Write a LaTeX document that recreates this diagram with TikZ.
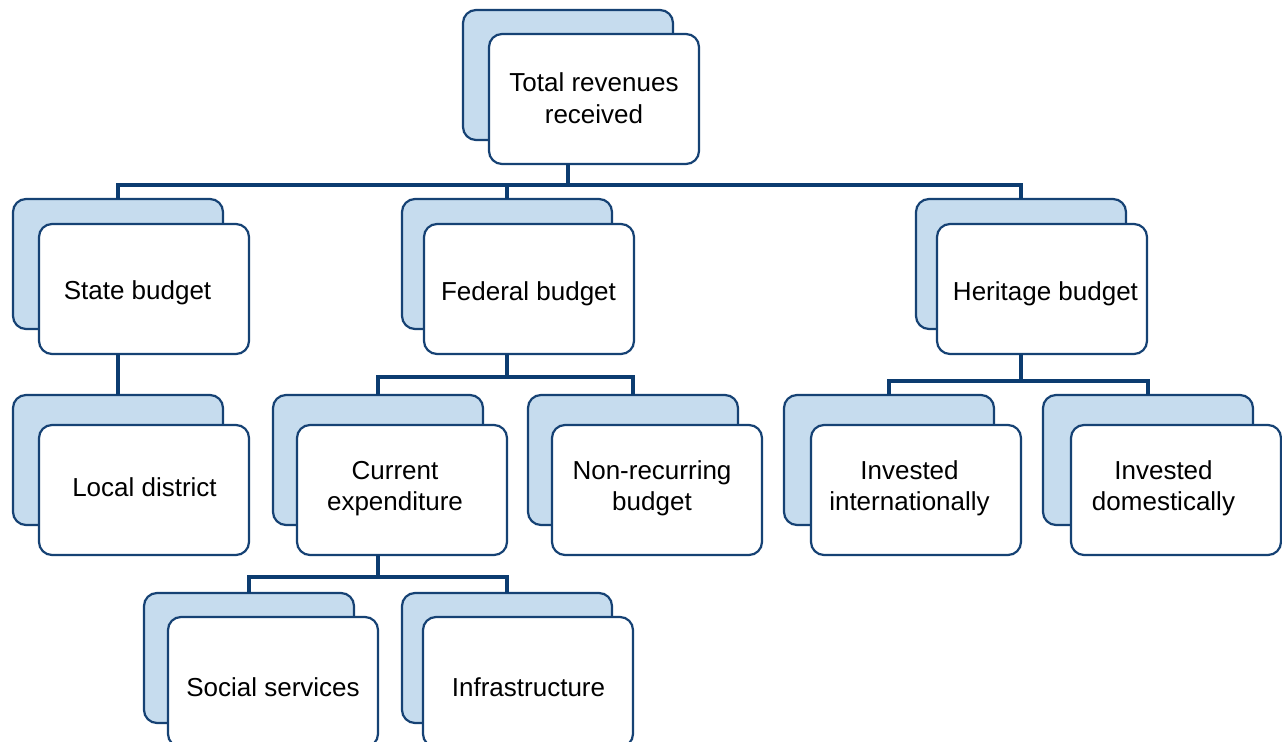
\documentclass[tikz,border=0pt]{standalone}
\usepackage{fontspec}
\setmainfont{Liberation Sans}
\usetikzlibrary{calc}
\definecolor{edgeblue}{RGB}{22,66,116}
\definecolor{linkblue}{RGB}{12,60,112}
\definecolor{backblue}{RGB}{198,220,238}
\tikzset{
  backcard/.style={draw=edgeblue, line width=1.1pt, fill=backblue, rounded corners=6.5pt,
    minimum width=105pt, minimum height=65pt, inner sep=0pt, outer sep=0pt, anchor=north west},
  frontcard/.style={draw=edgeblue, line width=1.1pt, fill=white, rounded corners=6.5pt,
    minimum width=105pt, minimum height=65pt, inner sep=0pt, outer sep=0pt, anchor=north west},
  cardtext/.style={inner sep=0pt, align=center, font=\fontsize{13pt}{15.8pt}\selectfont},
  link/.style={draw=linkblue, line width=2.1pt, line join=miter}
}
% one card: back plate name, back corner, front name, front corner, text centre, label
\newcommand\orgcard[6]{%
  \node[backcard] (#1) at #2 {};
  \node[frontcard] (#3) at #4 {};
  \node[cardtext] (#3-t) at #5 {#6};
}
\begin{document}
\begin{tikzpicture}[x=0.5pt,y=-0.5pt]
\clip (0,0) rectangle (1282,742);
\fill[white] (0,0) rectangle (1282,742);

% horizontal bus levels
\coordinate (busA) at (0,185);
\coordinate (busB) at (0,377);
\coordinate (busC) at (0,381);
\coordinate (busD) at (0,577);

% cards
\orgcard{totalB}{(463,10)}{total}{(489,34)}{(594,101.2)}{\strut Total revenues\\\strut received}
\orgcard{stateB}{(13,199)}{state}{(39,224)}{(137.5,293.2)}{\strut State budget}
\orgcard{fedB}{(402,199)}{fed}{(424,224)}{(528.5,293.7)}{\strut Federal budget}
\orgcard{heritB}{(916,199)}{herit}{(937,224)}{(1045.5,293.7)}{\strut Heritage budget}
\orgcard{localB}{(13,395)}{local}{(39,425)}{(144.5,489.7)}{\strut Local district}
\orgcard{currB}{(273,395)}{curr}{(297,425)}{(395,488.5)}{\strut Current\\\strut expenditure}
\orgcard{nonrecB}{(528,395)}{nonrec}{(552,425)}{(652,488.5)}{\strut Non-recurring\\\strut budget}
\orgcard{intlB}{(784,395)}{intl}{(811,425)}{(909.5,488.5)}{\strut Invested\\\strut internationally}
\orgcard{domB}{(1043,395)}{dom}{(1071,425)}{(1163.5,488.5)}{\strut Invested\\\strut domestically}
\orgcard{socB}{(144,593)}{soc}{(168,617)}{(273,689.7)}{\strut Social services}
\orgcard{infraB}{(402,593)}{infra}{(423,617)}{(528.5,689.7)}{\strut Infrastructure}

% level 1
\draw[link] (total.south -| totalB.center) -- (totalB.center |- busA);
\draw[link] (stateB.north) -- (stateB.north |- busA) -- (heritB.north |- busA) -- (heritB.north);
\draw[link] (fedB.north) -- (fedB.north |- busA);
% state
\draw[link] (state.south -| stateB.center) -- (localB.north);
% federal
\draw[link] (fed.south -| fedB.center) -- (fedB.center |- busB);
\draw[link] (currB.north) -- (currB.north |- busB) -- (nonrecB.north |- busB) -- (nonrecB.north);
% heritage
\draw[link] (herit.south -| heritB.center) -- (heritB.center |- busC);
\draw[link] (intlB.north) -- (intlB.north |- busC) -- (domB.north |- busC) -- (domB.north);
% current expenditure
\draw[link] (curr.south -| currB.center) -- (currB.center |- busD);
\draw[link] (socB.north) -- (socB.north |- busD) -- (infraB.north |- busD) -- (infraB.north);
\end{tikzpicture}
\end{document}
